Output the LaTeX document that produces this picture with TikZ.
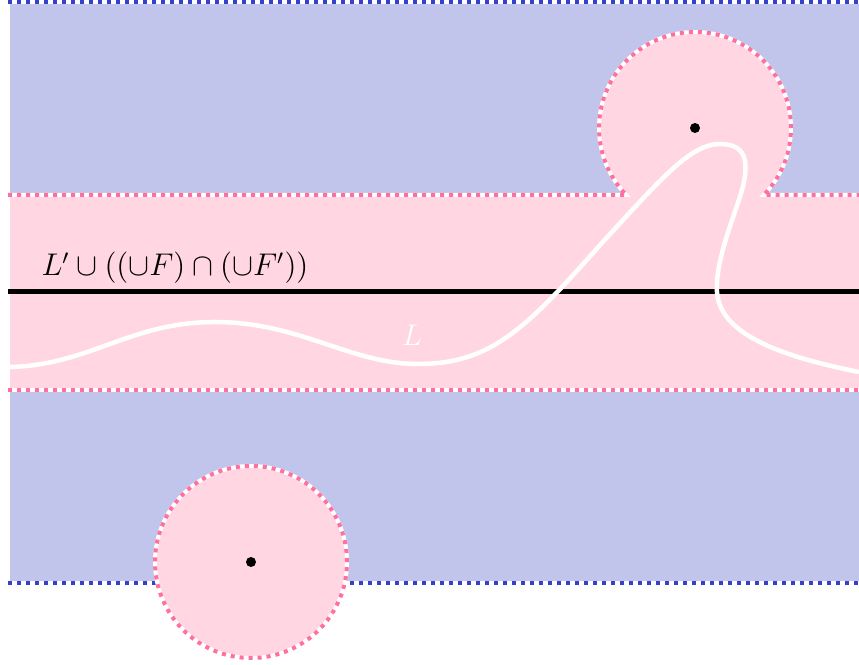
\documentclass[tikz,border=0pt]{standalone}
\usepackage{amsmath}
\definecolor{bluefill}{RGB}{193,197,235}
\definecolor{pinkfill}{RGB}{255,214,226}
\definecolor{pinkdot}{RGB}{255,112,160}
\definecolor{bluedot}{RGB}{55,65,200}
\tikzset{
  under/.style={draw=white,line width=1.6pt},
  pinkdotted/.style={draw=pinkdot,line width=1.6pt,dash pattern=on 1.6pt off 2pt},
  bluedotted/.style={draw=bluedot,line width=1.6pt,dash pattern=on 1.6pt off 2pt},
  centerdot/.style={circle,fill=black,inner sep=0pt,minimum size=4pt},
}
\begin{document}
\begin{tikzpicture}[x=0.4pt,y=0.4pt]
\useasboundingbox (0,0) rectangle (859,665);
% blue region
\fill[bluefill] (10,83) rectangle (859,662);
\draw[under] (8,663) -- (859,663);
\draw[bluedotted] (8,663) -- (859,663);
\draw[under] (8,82) -- (859,82);
\draw[bluedotted] (8,82) -- (859,82);
% pink union
\fill[pinkfill] (10,275) rectangle (859,470);
\fill[pinkfill] (695,537) circle (96);
\fill[pinkfill] (251,103) circle (96);
% outlines
\coordinate (tl) at (8,470);
\path (695,537) ++(224.26:96) coordinate (ta);
\path (695,537) ++(-44.26:96) coordinate (tb);
\coordinate (tr) at (859,470);
\foreach \s in {under,pinkdotted}{
  \draw[\s] (tl) -- (ta) arc[start angle=224.26,end angle=-44.26,radius=96] -- (tr);
  \draw[\s] (8,275) -- (859,275);
  \draw[\s] (251,103) circle (96);
}
% black line
\draw[line width=2pt] (8,373) -- (859,373);
\node[anchor=base west,inner sep=0pt,font=\fontsize{12}{14}\selectfont] (lab) at (41,389) {\scalebox{1.045}{$L'\cup((\cup F)\cap(\cup F'))$}};
% curve L
\draw[white,line width=1.8pt] (10,298) .. controls (90,300) and (130,343) .. (215,343)
  .. controls (300,343) and (350,301) .. (418,301)
  .. controls (490,301) and (525,335) .. (600,420)
  .. controls (660,485) and (690,521) .. (720,521)
  .. controls (745,521) and (750,505) .. (742,475)
  .. controls (735,450) and (715,405) .. (717,373)
  .. controls (720,325) and (800,305) .. (859,293);
\node[text=white,font=\fontsize{12}{14}\selectfont,inner sep=0pt] (L) at (412,330) {$L$};
% centre dots
\node[centerdot] (c1) at (695,537) {};
\node[centerdot] (c2) at (251,103) {};
\end{tikzpicture}
\end{document}
